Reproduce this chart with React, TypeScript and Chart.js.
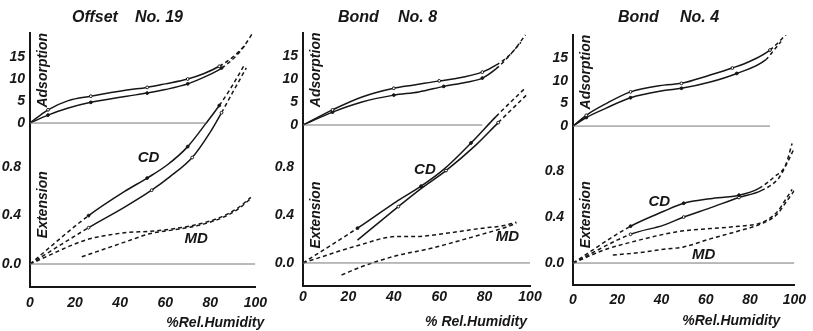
import React, { useEffect, useRef } from "react";
import { Chart, registerables } from "chart.js";

Chart.register(...registerables);

type Pt = [number, number];

const FONT = "'Liberation Sans', Arial, sans-serif";
const INK = "#161616";

// ---- shared axis values ----
const humidityTicks = [0, 20, 40, 60, 80, 100];
const extensionTicks = [0, 0.4, 0.8];
const extensionTickLabels = ["0.0 ", "0.4 ", "0.8 "];
const adsorptionTicks = [0, 5, 10, 15];
const adsorptionTickLabels = ["0", "5", "10", "15"];

// ---- Offset No. 19 ----
const off19AdsUpper: Pt[] = [[0, 0], [8, 3], [17, 5.1], [27, 6.1], [43, 7.5], [52, 8.1], [60, 8.9], [70, 10], [77, 11.2], [84, 12.9], [90, 15], [95, 17.5], [99, 20.6]];
const off19AdsLower: Pt[] = [[0, 0], [8, 1.8], [17, 3.4], [27, 4.7], [43, 6.1], [52, 6.8], [60, 7.6], [70, 8.9], [78, 10.6], [85, 12.5], [91, 15], [96, 18]];
const off19CDUpper: Pt[] = [[0, 0], [26, 0.4], [42, 0.6], [52, 0.71], [61, 0.82], [70, 0.97], [78, 1.16], [84, 1.31], [89, 1.45], [95, 1.64]];
const off19CDLower: Pt[] = [[0, 0], [26, 0.3], [42, 0.47], [54, 0.61], [62, 0.72], [72, 0.88], [80, 1.09], [85, 1.25], [90, 1.42], [96, 1.62]];
const off19MDUpper: Pt[] = [[0, 0], [25, 0.2], [35, 0.24], [43, 0.26], [53, 0.27], [63, 0.29], [75, 0.33], [85, 0.39], [92, 0.46], [98, 0.55]];
const off19MDLower: Pt[] = [[23, 0.06], [34, 0.13], [45, 0.2], [53, 0.25], [63, 0.28], [75, 0.32], [85, 0.38], [92, 0.45], [98, 0.54]];
const off19AdsBase: Pt[] = [[0, 0], [78, 0]];
const off19ExtBase: Pt[] = [[0, 0], [100, 0]];
const off19CDLabel: Pt = [52.6, 0.88];
const off19MDLabel: Pt = [73.7, 0.21];

// ---- Bond No. 8 ----
const b8AdsUpper: Pt[] = [[0, 0], [13, 3.3], [26, 6.1], [40, 8], [49, 8.7], [60, 9.6], [66, 10], [79, 11.5], [85, 13], [92, 15.7], [98, 19.6]];
const b8AdsLower: Pt[] = [[0, 0], [13, 2.8], [26, 5], [40, 6.5], [51, 7.2], [62, 8.4], [72, 9.3], [79, 10.2], [85, 12.2], [90, 14.6], [96, 18]];
const b8CDUpper: Pt[] = [[0, 0], [24, 0.29], [41, 0.51], [52, 0.64], [62, 0.78], [74, 1.0], [85, 1.22], [98, 1.46]];
const b8CDLower: Pt[] = [[24, 0.19], [42, 0.47], [52, 0.62], [63, 0.77], [76, 0.98], [86, 1.17], [99, 1.41]];
const b8MDUpper: Pt[] = [[0, 0], [25, 0.15], [41, 0.22], [49, 0.22], [64, 0.25], [79, 0.29], [88, 0.31], [94, 0.34]];
const b8MDLower: Pt[] = [[17, -0.1], [26, -0.03], [41, 0.06], [56, 0.12], [64, 0.16], [79, 0.24], [88, 0.29], [94, 0.33]];
const b8AdsBase: Pt[] = [[0, 0], [79, 0]];
const b8ExtBase: Pt[] = [[0, 0], [100, 0]];
const b8CDLabel: Pt = [53.7, 0.78];
const b8MDLabel: Pt = [90, 0.22];

// ---- Bond No. 4 ----
const b4AdsUpper: Pt[] = [[0, 0], [6, 2.4], [15, 5], [26, 7.6], [41, 9.1], [49, 9.5], [61, 11.2], [72, 12.9], [80, 14.4], [89, 16.9], [97, 20.7]];
const b4AdsLower: Pt[] = [[0, 0], [6, 1.9], [15, 4], [26, 6.3], [41, 7.9], [49, 8.4], [62, 9.8], [74, 11.7], [87, 14.7], [91, 17], [94, 18.8]];
const b4CDUpper: Pt[] = [[0, 0], [26, 0.32], [41, 0.45], [50, 0.52], [62, 0.56], [75, 0.59], [84, 0.65], [91, 0.75], [96, 0.85], [99, 1.04]];
const b4CDLower: Pt[] = [[0, 0], [26, 0.25], [41, 0.33], [50, 0.4], [62, 0.48], [75, 0.57], [85, 0.63], [93, 0.74], [97, 0.88], [100, 1.0]];
const b4MDUpper: Pt[] = [[0, 0], [15, 0.12], [28, 0.19], [41, 0.25], [50, 0.28], [62, 0.3], [75, 0.32], [85, 0.35], [92, 0.44], [96, 0.55], [99, 0.64]];
const b4MDLower: Pt[] = [[18, 0.07], [30, 0.09], [41, 0.12], [50, 0.14], [62, 0.21], [75, 0.28], [85, 0.34], [92, 0.42], [97, 0.55], [100, 0.63]];
const b4AdsBase: Pt[] = [[0, 0], [89, 0]];
const b4ExtBase: Pt[] = [[0, 0], [100, 0]];
const b4CDLabel: Pt = [39, 0.53];
const b4MDLabel: Pt = [59, 0.07];

const titleWords = [["Offset", "No. 19"], ["Bond", "No. 8"], ["Bond", "No. 4"]];
const xTitles = ["%Rel.Humidity", "% Rel.Humidity", "%Rel.Humidity"];

type Panel = {
  left: number; width: number; padTop: number; padRight: number; xAxisH: number; xTickPad: number;
  extMin: number; extMax: number; adsZero: number; adsK: number;
  titleLeft: [number, number]; xTitle: string; xTitleShift: number; extLabelAt: number;
  ads: [Pt[], Pt[]]; adsSolid: [number, number, number];
  cd: [Pt[], Pt[]]; cdSolid: [[number, number], [number, number]];
  md: [Pt[], Pt[]]; adsBase: Pt[]; extBase: Pt[]; cdLabel: Pt; mdLabel: Pt; words: string[];
};

const panels: Panel[] = [
  {
    left: 0, width: 275, padTop: 33, padRight: 17, xAxisH: 44, xTickPad: 8,
    extMin: -0.19, extMax: 1.909, adsZero: 1.165, adsK: 0.03636,
    titleLeft: [72, 135], xTitle: xTitles[0], xTitleShift: 9, extLabelAt: 0.49,
    ads: [off19AdsUpper, off19AdsLower], adsSolid: [0, 84, 85],
    cd: [off19CDUpper, off19CDLower], cdSolid: [[26, 84], [26, 85]],
    md: [off19MDUpper, off19MDLower], adsBase: off19AdsBase, extBase: off19ExtBase,
    cdLabel: off19CDLabel, mdLabel: off19MDLabel, words: titleWords[0],
  },
  {
    left: 273, width: 275, padTop: 33, padRight: 18, xAxisH: 45, xTickPad: 3,
    extMin: -0.192, extMax: 1.917, adsZero: 1.15, adsK: 0.03833,
    titleLeft: [338, 398], xTitle: xTitles[1], xTitleShift: -3, extLabelAt: 0.4,
    ads: [b8AdsUpper, b8AdsLower], adsSolid: [0, 85, 85],
    cd: [b8CDUpper, b8CDLower], cdSolid: [[24, 85], [0, 86]],
    md: [b8MDUpper, b8MDLower], adsBase: b8AdsBase, extBase: b8ExtBase,
    cdLabel: b8CDLabel, mdLabel: b8MDLabel, words: titleWords[1],
  },
  {
    left: 543, width: 270, padTop: 35, padRight: 11, xAxisH: 46, xTickPad: 7,
    extMin: -0.191, extMax: 1.983, adsZero: 1.191, adsK: 0.03913,
    titleLeft: [618, 680], xTitle: xTitles[2], xTitleShift: -14, extLabelAt: 0.42,
    ads: [b4AdsUpper, b4AdsLower], adsSolid: [0, 89, 87],
    cd: [b4CDUpper, b4CDLower], cdSolid: [[26, 84], [26, 85]],
    md: [b4MDUpper, b4MDLower], adsBase: b4AdsBase, extBase: b4ExtBase,
    cdLabel: b4CDLabel, mdLabel: b4MDLabel, words: titleWords[2],
  },
];

const annotPlugin = {
  id: "annot",
  afterDatasetsDraw(chart: any, _args: any, opts: any) {
    const { ctx, chartArea, scales } = chart;
    const xs = scales.x;
    const ys = scales.y;
    ctx.save();
    ctx.fillStyle = INK;
    ctx.textAlign = "center";
    ctx.textBaseline = "middle";
    ctx.font = `italic bold 15px ${FONT}`;
    for (const l of opts.labels) {
      ctx.fillText(l.text, xs.getPixelForValue(l.x), ys.getPixelForValue(l.y));
    }
    ctx.font = `italic bold 14px ${FONT}`;
    for (const r of opts.rotated) {
      ctx.save();
      ctx.translate(chartArea.left + 13, ys.getPixelForValue(r.y));
      ctx.rotate(-Math.PI / 2);
      ctx.fillText(r.text, 0, 0);
      ctx.restore();
    }
    ctx.textAlign = "right";
    ctx.fillText(opts.xTitle, chartArea.right + opts.xTitleShift, chartArea.bottom + 36);
    ctx.restore();
  },
};

function PanelChart({ p }: { p: Panel }) {
  const ref = useRef<HTMLCanvasElement>(null);
  useEffect(() => {
    if (!ref.current) return;
    const adsY = (a: number) => p.adsZero + a * p.adsK;
    const toExt = (pts: Pt[]) => pts.map(([x, y]) => ({ x, y }));
    const toAds = (pts: Pt[]) => pts.map(([x, y]) => ({ x, y: adsY(y) }));
    const curve = (data: { x: number; y: number }[], from: number, to: number, filled: boolean) => ({
      data,
      borderColor: INK,
      borderWidth: 1.5,
      cubicInterpolationMode: "monotone",
      fill: false,
      pointRadius: (c: any) => {
        const i = c.dataIndex;
        const pt = data[i];
        return i > 0 && i < data.length - 1 && i % 2 === 1 && pt && pt.x <= to && pt.x >= from ? 1.4 : 0;
      },
      pointBackgroundColor: filled ? INK : "#fff",
      pointBorderColor: INK,
      pointBorderWidth: 1,
      segment: {
        borderDash: (c: any) => {
          const a = data[c.p0DataIndex].x;
          const b = data[c.p1DataIndex].x;
          return b <= from || a >= to ? [4, 3] : undefined;
        },
      },
    });
    const base = (data: { x: number; y: number }[]) => ({
      data, borderColor: "#777", borderWidth: 1, pointRadius: 0, fill: false,
    });
    const datasets = [
      base(toAds(p.adsBase)),
      base(toExt(p.extBase)),
      curve(toAds(p.ads[0]), p.adsSolid[0], p.adsSolid[1], false),
      curve(toAds(p.ads[1]), p.adsSolid[0], p.adsSolid[2], true),
      curve(toExt(p.cd[0]), p.cdSolid[0][0], p.cdSolid[0][1], true),
      curve(toExt(p.cd[1]), p.cdSolid[1][0], p.cdSolid[1][1], false),
      curve(toExt(p.md[0]), 100, 100, true),
      curve(toExt(p.md[1]), 100, 100, false),
    ];
    const yVals = [...extensionTicks, ...adsorptionTicks.map(adsY)];
    const yLabels = [...extensionTickLabels, ...adsorptionTickLabels];
    const tickFont = { family: FONT, size: 14, style: "italic" as const, weight: "bold" as const };
    const chart = new Chart(ref.current, {
      type: "line",
      data: { datasets: datasets as any },
      plugins: [annotPlugin as any],
      options: {
        animation: false,
        responsive: false,
        maintainAspectRatio: false,
        devicePixelRatio: 1,
        layout: { padding: { top: p.padTop, right: p.padRight, left: 0, bottom: 0 } },
        plugins: {
          legend: { display: false },
          tooltip: { enabled: false },
          annot: {
            labels: [
              { text: "CD", x: p.cdLabel[0], y: p.cdLabel[1] },
              { text: "MD", x: p.mdLabel[0], y: p.mdLabel[1] },
            ],
            rotated: [
              { text: "Adsorption", y: adsY(12) },
              { text: "Extension", y: p.extLabelAt },
            ],
            xTitle: p.xTitle,
            xTitleShift: p.xTitleShift,
          },
        } as any,
        scales: {
          x: {
            type: "linear",
            min: 0,
            max: 100,
            afterBuildTicks: (s: any) => { s.ticks = humidityTicks.map((v) => ({ value: v })); },
            afterFit: (s: any) => { s.height = p.xAxisH; },
            ticks: { autoSkip: false, maxRotation: 0, padding: p.xTickPad, color: INK, font: tickFont },
            grid: { display: false, drawTicks: false },
            border: { display: true, color: INK, width: 2 },
          },
          y: {
            type: "linear",
            min: p.extMin,
            max: p.extMax,
            afterBuildTicks: (s: any) => { s.ticks = yVals.map((v) => ({ value: v })); },
            afterFit: (s: any) => { s.width = 30; },
            ticks: {
              autoSkip: false,
              padding: 5,
              color: INK,
              font: tickFont,
              callback: (_v: any, i: number) => yLabels[i],
            },
            grid: { display: false, drawTicks: false },
            border: { display: true, color: INK, width: 2 },
          },
        },
      } as any,
    });
    return () => chart.destroy();
  }, [p]);

  const titleStyle: React.CSSProperties = {
    position: "absolute", top: 8, font: `italic bold 16px ${FONT}`, lineHeight: "18px", color: INK, whiteSpace: "nowrap",
  };
  return (
    <>
      <canvas
        ref={ref}
        width={p.width}
        height={331}
        style={{ position: "absolute", left: p.left, top: 0, width: p.width, height: 331 }}
      />
      <span style={{ ...titleStyle, left: p.titleLeft[0] }}>{p.words[0]}</span>
      <span style={{ ...titleStyle, left: p.titleLeft[1] }}>{p.words[1]}</span>
    </>
  );
}

export default function App() {
  return (
    <div style={{ position: "absolute", left: 0, top: 0, width: 813, height: 331, background: "#fff", overflow: "hidden" }}>
      {panels.map((p, i) => (
        <PanelChart key={i} p={p} />
      ))}
    </div>
  );
}
